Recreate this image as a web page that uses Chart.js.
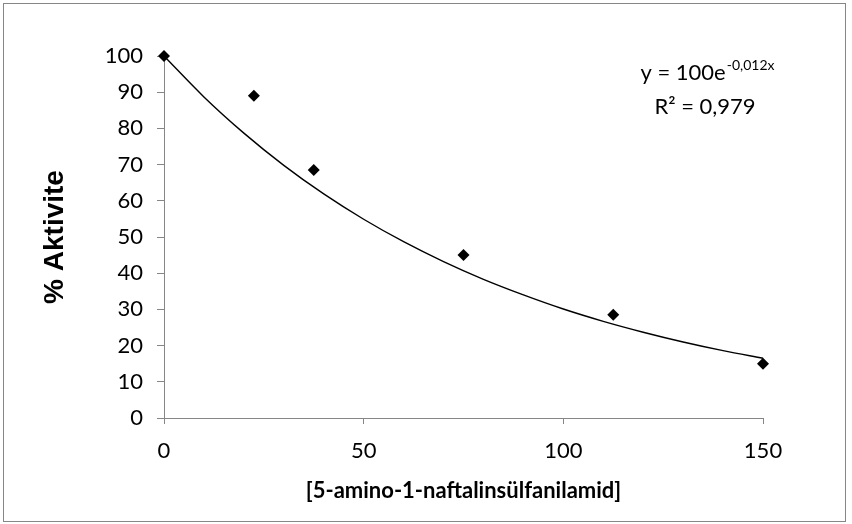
<!DOCTYPE html>
<html>
<head>
<meta charset="utf-8">
<script src="https://cdn.jsdelivr.net/npm/chart.js@4"></script>
<style>
html,body{margin:0;padding:0;background:#fff;}
#wrap{width:852px;height:524px;position:relative;}
</style>
</head>
<body>
<div id="wrap"><canvas id="c" width="852" height="524"></canvas></div>
<script>
const concX = [0, 22.5, 37.5, 75, 112.5, 150];
const activity = [100, 89, 68.5, 45, 28.5, 15];
const trendX = [0, 10, 20, 30, 40, 50, 60, 70, 80, 90, 100, 110, 120, 130, 140, 150];
const trendY = [100, 88.7, 78.7, 69.8, 61.9, 54.9, 48.7, 43.2, 38.3, 34.0, 30.1, 26.7, 23.7, 21.0, 18.6, 16.5];
const xTicks = [0, 50, 100, 150];
const yTicks = [0, 10, 20, 30, 40, 50, 60, 70, 80, 90, 100];
const xTitle = '[5-amino-1-naftalinsülfanilamid]';
const yTitle = '% Aktivite';
const eqMain = 'y = 100e';
const eqSup = '-0,012x';
const r2Text = 'R² = 0,979';

const axisGray = '#868686';
const FAM = 'Lato, "Open Sans", sans-serif';
const tickFont = {family: FAM, size: 22};

const frame = {
  id: 'frame',
  beforeDraw(chart) {
    const ctx = chart.ctx;
    ctx.save();
    ctx.fillStyle = '#fff';
    ctx.fillRect(0, 0, chart.width, chart.height);
    ctx.strokeStyle = axisGray;
    ctx.lineWidth = 1;
    ctx.strokeRect(3.5, 3.5, 842, 518);
    ctx.restore();
  },
  afterDraw(chart) {
    const ctx = chart.ctx;
    ctx.save();
    ctx.fillStyle = '#000';
    ctx.textBaseline = 'alphabetic';
    ctx.textAlign = 'left';
    ctx.font = '22px ' + FAM;
    const w1 = ctx.measureText(eqMain).width;
    ctx.font = '14px ' + FAM;
    const w2 = ctx.measureText(eqSup).width;
    const cx = 707;
    let x0 = cx - (w1 + w2) / 2;
    ctx.font = '22px ' + FAM;
    ctx.fillText(eqMain, x0, 80);
    ctx.font = '14px ' + FAM;
    ctx.fillText(eqSup, x0 + w1 + 1, 70);
    ctx.font = '22px ' + FAM;
    ctx.textAlign = 'center';
    ctx.fillText(r2Text, 705, 114);
    ctx.restore();
  }
};

new Chart(document.getElementById('c'), {
  type: 'scatter',
  data: {
    datasets: [
      {
        type: 'line',
        data: trendX.map((x, i) => ({x: x, y: trendY[i]})),
        borderColor: '#000',
        borderWidth: 1.4,
        pointRadius: 0,
        fill: false,
        tension: 0.4,
        cubicInterpolationMode: 'monotone',
        clip: false,
        order: 2
      },
      {
        data: concX.map((x, i) => ({x: x, y: activity[i]})),
        pointStyle: 'rectRot',
        pointRadius: 6,
        backgroundColor: '#000',
        borderColor: '#000',
        borderWidth: 0,
        clip: false,
        order: 1
      }
    ]
  },
  options: {
    responsive: false,
    animation: false,
    devicePixelRatio: 1,
    layout: {padding: {left: 38, top: 56, right: 89, bottom: 0}},
    plugins: {legend: {display: false}, tooltip: {enabled: false}},
    scales: {
      x: {
        type: 'linear',
        min: 0, max: 150,
        afterBuildTicks(s) { s.ticks = xTicks.map(v => ({value: v})); },
        afterFit(s) { s.height = 106; },
        grid: {drawOnChartArea: false, color: axisGray, tickLength: 6},
        border: {color: axisGray, width: 1},
        ticks: {color: '#000', font: tickFont, padding: 14},
        title: {display: true, text: xTitle, color: '#000',
          font: {family: FAM, size: 22, weight: 'bold'}, padding: {top: 0, bottom: 20}}
      },
      y: {
        type: 'linear',
        min: 0, max: 100,
        afterBuildTicks(s) { s.ticks = yTicks.map(v => ({value: v})); },
        afterFit(s) { s.width = 126; },
        grid: {drawOnChartArea: false, color: axisGray, tickLength: 7},
        border: {color: axisGray, width: 1},
        ticks: {color: '#000', font: tickFont, padding: 14},
        title: {display: true, text: yTitle, color: '#000',
          font: {family: '"Liberation Sans", Arial, sans-serif', size: 28, weight: 'bold'}, padding: {top: 0, bottom: 0}}
      }
    }
  },
  plugins: [frame]
});
</script>
</body>
</html>
